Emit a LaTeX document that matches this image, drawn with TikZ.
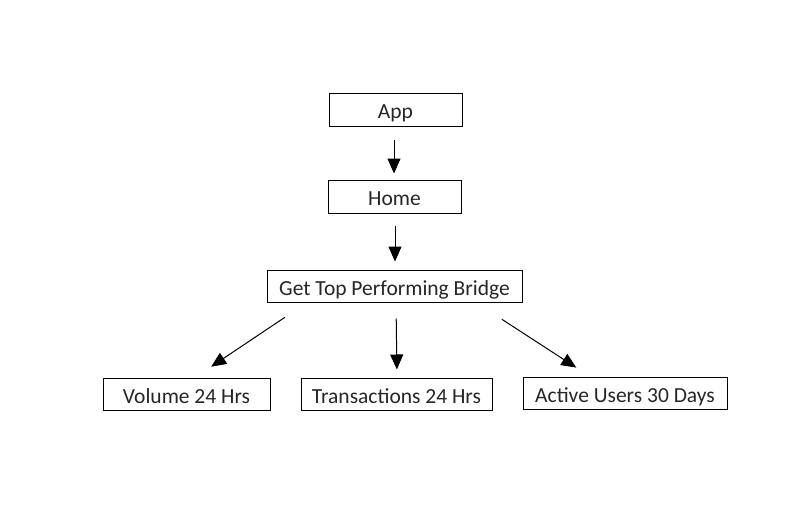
\documentclass[tikz,border=0pt]{standalone}
\usepackage{fontspec}
\setmainfont{Carlito}
\usetikzlibrary{arrows.meta,calc}
\begin{document}
\begin{tikzpicture}[x=1pt,y=-1pt,
  box/.style={draw=black,line width=1pt,rectangle,inner sep=0pt,minimum height=33pt,text height=18.5pt,text depth=0pt,text=black!85,font=\fontsize{21.5}{24}\selectfont},
  arr/.style={draw=black,line width=1pt,-{Triangle[length=15pt,width=13pt]}}]
\useasboundingbox (0,0) rectangle (793,530);
\node[box,minimum width=133pt] (app) at (395.5,109.5) {App};
\node[box,minimum width=133pt] (home) at (394.5,196.5) {Home};
\node[box,minimum width=255pt,minimum height=32pt] (get) at (394.5,286) {Get Top Performing Bridge};
\node[box,minimum width=167pt,minimum height=32pt] (vol) at (186.5,394) {Volume 24 Hrs};
\node[box,minimum width=191pt,minimum height=32pt] (trans) at (396.5,394) {Transactions 24 Hrs};
\node[box,minimum width=204pt,minimum height=32pt] (act) at (625,393) {Active Users 30 Days};
\draw[arr,shorten <=13pt,shorten >=6pt] ($(app.south)+(-1.5,0)$) -- ($(home.north)+(-0.5,0)$);
\draw[arr,shorten <=12pt,shorten >=8pt] ($(home.south)+(0.5,0)$) -- ($(get.north)+(0.5,0)$);
\draw[arr,shorten <=16pt,shorten >=8pt] ($(get.south)+(1.5,0)$) -- ($(trans.north)+(0.5,0)$);
\draw[arr,shorten <=26.6pt,shorten >=19.4pt] ($(get.south)+(-87.5,0)$) -- ($(vol.north)+(8.5,0)$);
\draw[arr,shorten <=30.8pt,shorten >=16.3pt] ($(get.south)+(81.5,0)$) -- ($(act.north)+(-35,0)$);
\end{tikzpicture}
\end{document}
